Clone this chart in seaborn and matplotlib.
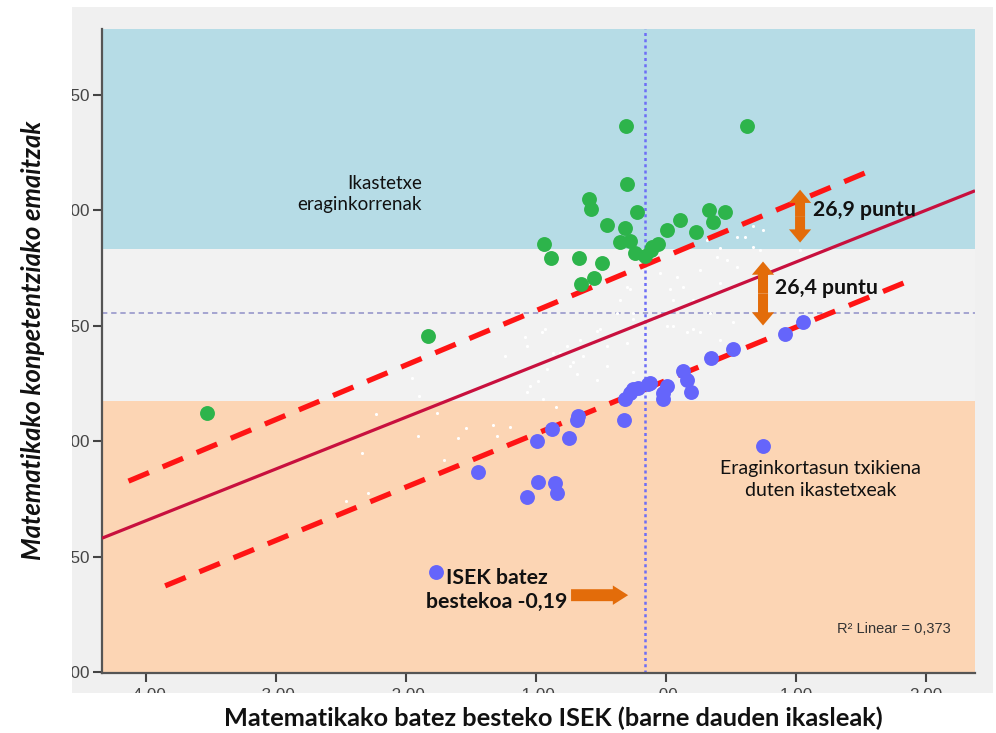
import numpy as np
import pandas as pd
import matplotlib
matplotlib.use("Agg")
import matplotlib.pyplot as plt
from matplotlib.patches import Rectangle
import seaborn as sns

# ---------------- data ----------------
green_x = [-3.533, -1.828, -0.938, -0.887, -0.672, -0.656, -0.554, -0.492, -0.590, -0.579,
           -0.452, -0.308, -0.302, -0.221, -0.315, -0.354, -0.277, -0.241, -0.162, -0.118,
           -0.110, -0.059, 0.005, 0.105, 0.231, 0.331, 0.364, 0.456, 0.625]
green_y = [212.3, 245.5, 285.2, 279.4, 279.4, 268.1, 270.7, 277.3, 304.9, 300.7,
           293.6, 336.6, 311.2, 299.4, 292.5, 286.4, 286.9, 281.3, 280.4, 283.0,
           284.1, 285.6, 291.3, 295.8, 290.4, 300.0, 294.8, 299.1, 336.6]

blue_x = [-1.769, -1.444, -1.073, -0.982, -0.854, -0.841, -0.995, -0.879, -0.745, -0.679,
          -0.687, -0.323, -0.315, -0.277, -0.252, -0.213, -0.136, -0.123, -0.025, -0.021,
          0.005, 0.128, 0.159, 0.190, 0.346, 0.518, 0.748, 0.915, 1.054]
blue_y = [143.3, 186.6, 175.8, 182.3, 181.7, 177.4, 200.0, 205.4, 201.5, 210.9,
          209.2, 209.0, 218.4, 221.0, 222.4, 223.1, 224.6, 225.3, 218.1, 221.0,
          223.8, 230.3, 226.7, 221.2, 235.9, 239.8, 198.1, 246.3, 251.4]

white_x = [-1.908, -1.762, -1.708, -1.600, -1.538, -1.331, -1.300, -1.200, -0.846, -1.069,
           -0.946, -0.985, -0.869, -0.715, -0.685, -0.531, -0.638, -0.569, -0.954, -0.931,
           -0.531, -0.762, -1.238, -1.954, -1.085, -1.900, -2.231, -2.338, -2.292, -2.462,
           0.546, 0.608, 0.669, 0.415, 0.315, 0.162, 0.392, 0.546, 0.262, 0.085,
           -0.046, 0.031, -0.431, -0.277, 0.415, 0.669, 0.746, 0.723, 1.031, 0.469,
           0.131, 0.054, 0.208, 0.515, 0.338, 0.008, 0.162, -0.300, -0.354, -0.254,
           -0.377, -0.254, -0.100, 0.054, 0.208, -0.508, -0.662, -0.454, -0.300, -1.069,
           -0.815, -0.738, -0.915, -1.046, -0.454, -0.254, 0.262, 0.415, 0.515]
white_y = [202.1, 212.0, 191.7, 201.2, 205.5, 206.8, 202.1, 206.0, 214.6, 221.1,
           218.1, 225.9, 238.4, 234.1, 228.9, 226.7, 236.7, 242.7, 247.1, 248.4,
           247.5, 241.0, 236.7, 227.2, 244.9, 219.4, 211.6, 194.7, 177.4, 174.0,
           288.6, 288.6, 284.3, 283.8, 287.3, 284.3, 279.9, 275.6, 274.3, 271.3,
           273.0, 265.7, 270.8, 265.7, 268.7, 293.3, 291.6, 283.0, 283.0, 278.6,
           266.9, 261.3, 261.3, 266.9, 255.7, 249.7, 247.1, 266.9, 261.3, 255.7,
           255.7, 252.7, 252.7, 249.7, 248.4, 248.4, 244.0, 241.0, 242.7, 241.0,
           238.4, 232.4, 231.1, 223.7, 232.4, 229.8, 247.1, 244.0, 251.4]

# regression line and bands (intercept, slope, x-range)
fit_intercept, fit_slope = 255.2, 22.4
upper_intercept, upper_slope, upper_range = 280.1, 23.55, [-4.136, 1.62]
lower_intercept, lower_slope, lower_range = 226.3, 23.08, [-3.854, 1.838]

isek_mean = -0.16
score_mean = 255.6
band_top_low = 283.3      # lower edge of blue zone
band_bottom_high = 217.6  # upper edge of orange zone

x_ticks = [-4, -3, -2, -1, 0, 1, 2]
x_tick_labels = ["-4.00", "-3.00", "-2.00", "-1.00", ".00", "1.00", "2.00"]
y_ticks = [100, 150, 200, 250, 300, 350]
y_tick_labels = ["100", "150", "200", "250", "300", "350"]
x_lim = (-4.34, 2.377)
y_lim = (99.6, 378.5)

# arrow spans (x, y_from, y_to) and horizontal arrow (y, x_from, x_to)
arrow_up_1 = (1.031, 286.0, 308.9)
arrow_up_2 = (0.746, 250.1, 277.8)
arrow_h = (133.3, -0.731, -0.292)

# ---------------- figure ----------------
W, H = 996, 733
fig = plt.figure(figsize=(W / 100, H / 100), dpi=100, facecolor="#f0f0f0")
ax = fig.add_axes([102 / W, 1 - 673 / H, (975 - 102) / W, (673 - 29) / H])
ax.set_facecolor("#f2f2f2")
ax.set_xlim(*x_lim)
ax.set_ylim(*y_lim)

# coloured zones
ax.axhspan(band_top_low, y_lim[1], color="#b6dce6", zorder=0, lw=0)
ax.axhspan(y_lim[0], band_bottom_high, color="#fcd5b4", zorder=0, lw=0)

# reference lines
ax.axvline(isek_mean, color="#6e6ef6", lw=1.8, ls=(0, (1.2, 1.3)), zorder=1)
ax.axhline(score_mean, color="#9090c8", lw=1.1, ls=(0, (3.5, 2.5)), zorder=1)

# small white student points
sns.scatterplot(x=white_x, y=white_y, ax=ax, color="white", s=5, linewidth=0, zorder=2, legend=False)

# regression lines
lx = np.array(x_lim)
ax.plot(lx, fit_intercept + fit_slope * lx, color="#c8103e", lw=2.3, zorder=3, solid_capstyle="butt")
ux = np.array(upper_range)
ax.plot(ux, upper_intercept + upper_slope * ux, color="#ff1414", lw=3.8, ls=(0, (4.2, 2.8)), zorder=3)
bx = np.array(lower_range)
ax.plot(bx, lower_intercept + lower_slope * bx, color="#ff1414", lw=3.8, ls=(0, (4.2, 2.8)), zorder=3)

# schools
sns.scatterplot(x=green_x, y=green_y, ax=ax, color="#2db44b", s=115, linewidth=0, zorder=4, legend=False)
sns.scatterplot(x=blue_x, y=blue_y, ax=ax, color="#6565fb", s=115, linewidth=0, zorder=4, legend=False)

# axes styling
for side in ["top", "right"]:
    ax.spines[side].set_visible(False)
for side in ["left", "bottom"]:
    ax.spines[side].set_color("#555555")
    ax.spines[side].set_linewidth(1.6)
ax.set_xticks(x_ticks)
ax.set_xticklabels(x_tick_labels)
ax.set_yticks(y_ticks)
ax.set_yticklabels(y_tick_labels)
ax.tick_params(axis="both", direction="out", length=6.3, width=1.5, color="#444444",
               labelcolor="#444444", labelsize=12.3)
ax.tick_params(axis="x", pad=4.8)
ax.tick_params(axis="y", pad=2.3)
for lbl in ax.get_xticklabels() + ax.get_yticklabels():
    lbl.set_fontfamily("Liberation Sans")

# annotations
txt_font = "Lato"
ax.text(-1.877, 307, "Ikastetxe\neraginkorrenak", ha="right", va="center", multialignment="right",
        fontsize=13.5, family=txt_font, linespacing=1.3, color="#111111", zorder=6)
ax.text(1.19, 183.5, "Eraginkortasun txikiena\nduten ikastetxeak", ha="center", va="center",
        fontsize=14, family=txt_font, linespacing=1.35, color="#111111", zorder=6)
ax.text(1.128, 300.3, "26,9 puntu", ha="left", va="center", fontsize=15.3, fontweight="bold",
        family=txt_font, color="#111111", zorder=6)
ax.text(0.838, 266.4, "26,4 puntu", ha="left", va="center", fontsize=15.3, fontweight="bold",
        family=txt_font, color="#111111", zorder=6)
ax.text(-1.30, 135.6, "ISEK batez\nbestekoa -0,19", ha="center", va="center", fontsize=15.3,
        fontweight="bold", family=txt_font, linespacing=1.2, color="#111111", zorder=6)
ax.text(1.315, 118.6, "R² Linear = 0,373", ha="left", va="center", fontsize=10.5,
        family="Liberation Sans", color="#333333", zorder=6)

# orange arrows (filled "simple" arrows, sizes in points)
arrow_col = "#e36c0a"
vstyle = dict(arrowstyle="simple,head_length=9.5,head_width=16,tail_width=7.2", color=arrow_col,
              lw=0, mutation_scale=1, shrinkA=0, shrinkB=0)
for (xa, y0, y1) in [arrow_up_1, arrow_up_2]:
    ym = (y0 + y1) / 2
    ax.annotate("", xy=(xa, y1), xytext=(xa, ym), arrowprops=vstyle, zorder=5)
    ax.annotate("", xy=(xa, y0), xytext=(xa, ym), arrowprops=vstyle, zorder=5)
hstyle = dict(arrowstyle="simple,head_length=11,head_width=14,tail_width=8.6", color=arrow_col,
              lw=0, mutation_scale=1, shrinkA=0, shrinkB=0)
ax.annotate("", xy=(arrow_h[2], arrow_h[0]), xytext=(arrow_h[1], arrow_h[0]), arrowprops=hstyle, zorder=5)

# white frame outside the grey chart panel (crop of the original image)
for (x0, y0, w, h) in [(0, 0, 71.5, H), (0, 693, W, H - 693), (0, 0, W, 7), (993, 0, W - 993, H)]:
    fig.add_artist(Rectangle((x0 / W, 1 - (y0 + h) / H), w / W, h / H, transform=fig.transFigure,
                             facecolor="white", edgecolor="none", zorder=5))

# axis titles
fig.text(553 / W, 1 - 718 / H, "Matematikako batez besteko ISEK (barne dauden ikasleak)",
         ha="center", va="center", fontsize=18.3, fontweight="bold", family=txt_font,
         color="#111111", zorder=6)
fig.text(33 / W, 1 - 340 / H, "Matematikako konpetentziako emaitzak", ha="center", va="center",
         rotation=90, fontsize=18.5, fontweight="bold", fontstyle="italic", family=txt_font,
         color="#111111", zorder=6)

fig.savefig("out.png", dpi=100, facecolor=fig.get_facecolor())
